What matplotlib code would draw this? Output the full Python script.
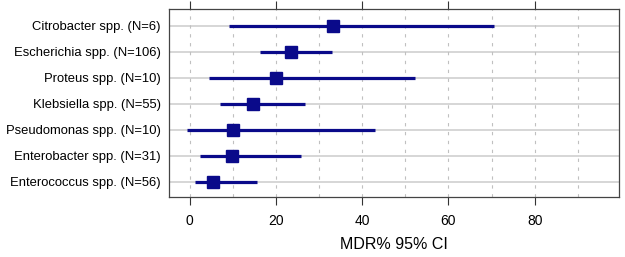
#!/usr/bin/env python3
import matplotlib
matplotlib.use("Agg")
import matplotlib.pyplot as plt

# rows from top to bottom as in the chart
labels = ["Citrobacter spp. (N=6)", "Escherichia spp. (N=106)", "Proteus spp. (N=10)",
          "Klebsiella spp. (N=55)", "Pseudomonas spp. (N=10)", "Enterobacter spp. (N=31)",
          "Enterococcus spp. (N=56)"]
mdr = [33.3, 23.6, 20.0, 14.7, 10.0, 9.7, 5.4]
ci_low = [9.0, 16.2, 4.5, 7.1, -0.6, 2.5, 1.2]
ci_high = [70.5, 32.9, 52.3, 26.7, 42.9, 25.9, 15.5]
xticks = [0, 20, 40, 60, 80]

def main():
    plt.rcParams['font.family'] = ['Liberation Sans', 'DejaVu Sans']
    fig = plt.figure(figsize=(6.25, 2.57), dpi=100)
    ax = fig.add_axes([169 / 625, 1 - 196.7 / 257, 450.3 / 625, 187.4 / 257])

    navy = '#0a0a8a'
    n = len(labels)
    ys = list(range(n, 0, -1))

    for y in ys:
        ax.axhline(y, color='#d0d0d0', linewidth=1.2, zorder=1)
    for gx in range(0, 100, 10):
        ax.axvline(gx, color='#c0c0c0', linewidth=0.8, linestyle=(0, (3, 5)), zorder=1)

    for y, m, lo, hi in zip(ys, mdr, ci_low, ci_high):
        ax.plot([lo, hi], [y, y], color=navy, linewidth=2.3, solid_capstyle='butt', zorder=3)
        ax.plot(m, y, marker='s', markersize=8, color=navy, zorder=4)

    ax.set_xlim(-4.8, 99.6)
    ax.set_ylim(0.42, 7.63)
    ax.set_yticks(ys)
    ax.set_yticklabels(labels, fontsize=9.4)
    ax.set_xticks(xticks)
    ax.set_xticklabels([str(t) for t in xticks], fontsize=10)
    ax.tick_params(axis='y', length=0, pad=6)
    ax.tick_params(axis='x', length=6, width=0.8, pad=6.5, top=True, color='#333333')
    for sp in ax.spines.values():
        sp.set_color('#444444')
        sp.set_linewidth(0.9)
    ax.set_xlabel("MDR% 95% CI", fontsize=11.5, labelpad=6.5)

    fig.savefig("out.png", dpi=100)

if __name__ == "__main__":
    main()
